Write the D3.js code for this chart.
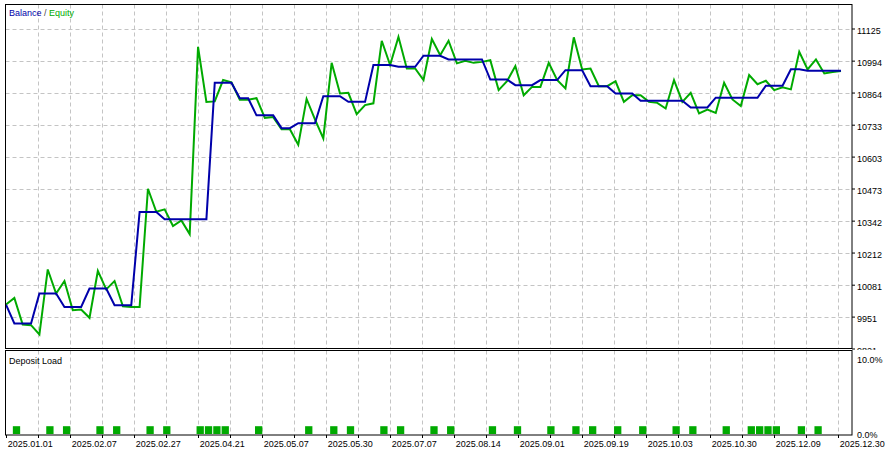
<!DOCTYPE html>
<html>
<head>
<meta charset="utf-8">
<script src="https://cdn.jsdelivr.net/npm/d3@7"></script>
<style>
body { margin: 0; background: #fff; }
svg text { font-family: "Liberation Sans", Arial, sans-serif; font-size: 9px; fill: #000; }
</style>
</head>
<body>
<svg width="890" height="452"></svg>
<script>
// equity and balance, one value per deal step
var equity = [
  10000, 10027, 9919, 9916, 9878, 10143, 10045, 10096, 9977, 9980,
  9946, 10137, 10062, 10096, 9993, 9990, 9990, 10472, 10378, 10388,
  10320, 10343, 10287, 11050, 10826, 10828, 10915, 10906, 10835, 10835,
  10841, 10761, 10764, 10714, 10714, 10651, 10838, 10755, 10677, 10985,
  10860, 10863, 10776, 10813, 10820, 11075, 10976, 11091, 10962, 10962,
  10915, 11082, 11016, 11075, 10983, 10993, 10985, 10989, 10996, 10874,
  10910, 10972, 10853, 10887, 10887, 10985, 10915, 10881, 11089, 10958,
  10962, 10890, 10890, 10910, 10826, 10853, 10853, 10826, 10822, 10799,
  10915, 10826, 10863, 10779, 10795, 10781, 10904, 10836, 10809, 10935,
  10898, 10912, 10874, 10885, 10877, 11030, 10958, 10999, 10942, 10948,
  10952
];
var balance = [
  10000, 9923, 9923, 9923, 10045, 10045, 10045, 9990, 9990, 9990,
  10065, 10065, 10065, 9997, 9997, 9997, 10377, 10377, 10377, 10348,
  10348, 10348, 10348, 10348, 10348, 10904, 10904, 10904, 10841, 10841,
  10771, 10771, 10771, 10719, 10719, 10739, 10739, 10739, 10849, 10849,
  10849, 10826, 10826, 10826, 10976, 10976, 10976, 10969, 10969, 10969,
  11014, 11014, 11014, 10999, 10999, 10999, 10999, 10999, 10917, 10917,
  10917, 10894, 10894, 10894, 10915, 10915, 10915, 10955, 10955, 10955,
  10890, 10890, 10890, 10860, 10860, 10860, 10831, 10831, 10831, 10831,
  10831, 10831, 10803, 10803, 10803, 10843, 10843, 10843, 10843, 10843,
  10843, 10892, 10892, 10892, 10959, 10959, 10953, 10953, 10953, 10953,
  10953
];

// deposit load (%) at the deals where it was recorded
var loadIdx = [1, 5, 7, 11, 13, 17, 19, 23, 24, 25, 26, 30, 36, 39, 41, 45, 47, 51,
  53, 58, 61, 65, 68, 70, 73, 76, 80, 82, 86, 89, 90, 91, 92, 95, 97];
var loadPct = [1, 1, 1, 1, 1, 1, 1, 1, 1, 1, 1, 1, 1, 1, 1, 1, 1, 1,
  1, 1, 1, 1, 1, 1, 1, 1, 1, 1, 1, 1, 1, 1, 1, 1, 1];

var dateLabels = ["2025.01.01", "2025.02.07", "2025.02.27", "2025.04.21", "2025.05.07",
  "2025.05.30", "2025.07.07", "2025.08.14", "2025.09.01", "2025.09.19",
  "2025.10.03", "2025.10.30", "2025.12.09", "2025.12.30"];
var valueTicks = [11125, 10994, 10864, 10733, 10603, 10473, 10342, 10212, 10081, 9951, 9821];
var loadTicks = [10, 0];

var svg = d3.select("svg");
var left = 5.5, right = 852;
var mainTop = 4.5, mainBottom = 348.5;
var lowTop = 350.5, lowBottom = 435;

var x = d3.scaleLinear().domain([0, equity.length - 1]).range([6, 841]);
var y = d3.scaleLinear().domain([9821, 11125]).range([348.5, 28.5]);
var dates = d3.scalePoint().domain(dateLabels).range([6, 838]);
var ly = d3.scaleLinear().domain([0, 10]).range([434, 356]);

// grid columns: at every date label and halfway between
var gridX = [];
dateLabels.forEach(function(d) {
  gridX.push(dates(d));
  gridX.push(dates(d) + dates.step() / 2);
});
gridX = gridX.filter(function(g) { return g > left + 4 && g < right - 4; });

var gridColor = "#c4c4c4";

// main panel grid
svg.append("g").selectAll("line").data(gridX).enter().append("line")
    .attr("x1", function(d) { return Math.round(d) + 0.5; })
    .attr("x2", function(d) { return Math.round(d) + 0.5; })
    .attr("y1", mainTop).attr("y2", mainBottom)
    .style("stroke", gridColor).style("stroke-dasharray", "4,3");
svg.append("g").selectAll("line").data(valueTicks.slice(0, -1)).enter().append("line")
    .attr("x1", left).attr("x2", right)
    .attr("y1", function(d) { return Math.round(y(d)) + 0.5; })
    .attr("y2", function(d) { return Math.round(y(d)) + 0.5; })
    .style("stroke", gridColor).style("stroke-dasharray", "4,3");

// lines
var line = d3.line()
    .x(function(d, i) { return x(i); })
    .y(function(d) { return y(d); });

svg.append("path").datum(equity)
    .attr("d", line)
    .style("fill", "none").style("stroke", "#00aa00").style("stroke-width", 2)
    .style("stroke-linejoin", "miter");
svg.append("path").datum(balance)
    .attr("d", line)
    .style("fill", "none").style("stroke", "#0000aa").style("stroke-width", 2)
    .style("stroke-linejoin", "miter");

svg.append("rect")
    .attr("x", left).attr("y", mainTop)
    .attr("width", right - left).attr("height", mainBottom - mainTop)
    .style("fill", "none").style("stroke", "#000");

// value axis on the right
var yAxis = svg.append("g")
    .attr("transform", "translate(" + right + ",0)")
    .call(d3.axisRight(y).tickValues(valueTicks).tickSize(3).tickPadding(2)
      .tickFormat(d3.format("d")));
yAxis.select(".domain").remove();
yAxis.selectAll("text").attr("dy", "0.55em").style("font-family", "Liberation Sans, Arial, sans-serif").style("font-size", "9px");

// legend
var legend = svg.append("text").attr("x", 9).attr("y", 15.5);
legend.append("tspan").text("Balance").style("fill", "#0000aa");
legend.append("tspan").text(" / ").style("fill", "#444");
legend.append("tspan").text("Equity").style("fill", "#00aa00");

// cover below the main panel (clips the lowest value label)
svg.append("rect")
    .attr("x", 0).attr("y", lowTop - 0.5)
    .attr("width", 890).attr("height", 452 - lowTop)
    .style("fill", "#fff");

// lower panel: deposit load
svg.append("g").selectAll("line").data(gridX).enter().append("line")
    .attr("x1", function(d) { return Math.round(d) + 0.5; })
    .attr("x2", function(d) { return Math.round(d) + 0.5; })
    .attr("y1", lowTop).attr("y2", lowBottom)
    .style("stroke", gridColor).style("stroke-dasharray", "4,3");

svg.append("g").selectAll("rect").data(loadIdx).enter().append("rect")
    .attr("x", function(d) { return x(d) - 1.5; })
    .attr("width", 7.3)
    .attr("y", function(d, i) { return ly(loadPct[i]); })
    .attr("height", function(d, i) { return ly(0) - ly(loadPct[i]); })
    .style("fill", "#00aa00");

svg.append("rect")
    .attr("x", left).attr("y", lowTop)
    .attr("width", right - left).attr("height", lowBottom - lowTop)
    .style("fill", "none").style("stroke", "#000");

svg.append("text").attr("x", 9).attr("y", 363.5).text("Deposit Load");

// date axis
svg.append("g").selectAll("line").data([6].concat(gridX)).enter().append("line")
    .attr("x1", function(d) { return Math.round(d) + 0.5; })
    .attr("x2", function(d) { return Math.round(d) + 0.5; })
    .attr("y1", lowBottom).attr("y2", lowBottom + 3)
    .style("stroke", "#000");
var xAxis = svg.append("g")
    .attr("transform", "translate(0," + lowBottom + ")")
    .call(d3.axisBottom(dates).tickSize(0).tickPadding(6));
xAxis.select(".domain").remove();
xAxis.selectAll("text")
    .attr("text-anchor", "start").attr("dx", 1.3)
    .style("font-family", "Liberation Sans, Arial, sans-serif").style("font-size", "9px");

// load axis
var lAxis = svg.append("g")
    .attr("transform", "translate(" + right + ",0)")
    .call(d3.axisRight(ly).tickValues(loadTicks).tickSize(0).tickPadding(5)
      .tickFormat(function(d) { return d3.format(".1f")(d) + "%"; }));
lAxis.select(".domain").remove();
lAxis.selectAll("text")
    .attr("dy", function(d) { return d === 10 ? "0.7em" : "0.42em"; })
    .style("font-family", "Liberation Sans, Arial, sans-serif").style("font-size", "9px");
</script>
</body>
</html>
